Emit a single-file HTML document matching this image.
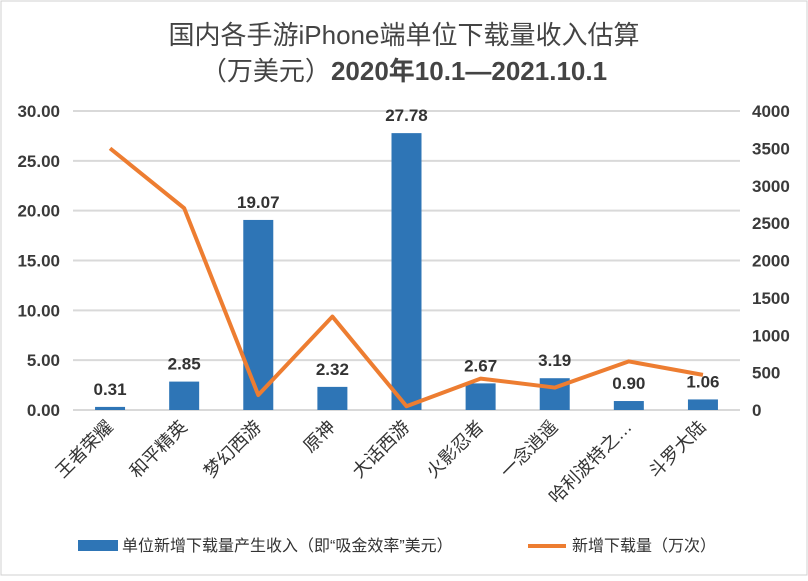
<!DOCTYPE html>
<html><head><meta charset="utf-8"><style>
body{margin:0;background:#fff}
svg{font-family:"Liberation Sans","Noto Sans CJK SC",sans-serif}
</style></head><body>
<svg width="808" height="576">
<rect x="1" y="1" width="806" height="574" fill="#fff" stroke="#d0d0d0"/>
<text x="404" y="44" text-anchor="middle" font-size="26" fill="#444">国内各手游iPhone端单位下载量收入估算</text>
<text x="404" y="80" text-anchor="middle" font-size="26" fill="#444">（万美元）<tspan font-weight="bold">2020年10.1—2021.10.1</tspan></text>
<g id="grid"></g><g id="bars"></g><g id="line"></g><g id="labels"></g>
<g>
<rect x="78" y="540" width="40" height="11" fill="#2e75b6"/>
<text x="122" y="551" font-size="16" fill="#333">单位新增下载量产生收入（即“吸金效率”美元）</text>
<line x1="528" y1="546" x2="566" y2="546" stroke="#ed7d31" stroke-width="4"/>
<text x="572" y="551" font-size="16" fill="#333">新增下载量（万次）</text>
</g>
</svg>
<script>
const categories=["王者荣耀","和平精英","梦幻西游","原神","大话西游","火影忍者","一念逍遥","哈利波特之…","斗罗大陆"];
const revenue=[0.31,2.85,19.07,2.32,27.78,2.67,3.19,0.90,1.06];
const downloads=[3500,2700,200,1250,50,420,300,650,470];
const leftTicks=["0.00","5.00","10.00","15.00","20.00","25.00","30.00"];
const rightTicks=["0","500","1000","1500","2000","2500","3000","3500","4000"];
const NS="http://www.w3.org/2000/svg";
const X0=73,X1=740,Y0=410,Y1=111;
const band=(X1-X0)/categories.length;
const xc=i=>X0+band*(i+0.5);
const yL=v=>Y0-(v/30)*(Y0-Y1);
const yR=v=>Y0-(v/4000)*(Y0-Y1);
function mk(t,a,p){const e=document.createElementNS(NS,t);for(const k in a)e.setAttribute(k,a[k]);p.appendChild(e);return e;}
const g=document.getElementById('grid'),b=document.getElementById('bars'),l=document.getElementById('line'),lb=document.getElementById('labels');
leftTicks.forEach(t=>{const y=yL(parseFloat(t));
const ln=mk('line',{x1:X0,x2:X1,y1:y,y2:y,stroke:'#d9d9d9','stroke-width':2},g);


const tx=mk('text',{x:60,y:y+6,'text-anchor':'end','font-size':17,'font-weight':'bold',fill:'#3a3a3a'},g);tx.textContent=t;

});
rightTicks.forEach(t=>{const y=yR(parseFloat(t));
const tx=mk('text',{x:752,y:y+6,'font-size':17,'font-weight':'bold',fill:'#3a3a3a'},g);tx.textContent=t;

});
categories.forEach((c,i)=>{const x=xc(i),v=revenue[i];
const r=mk('rect',{x:x-15,y:yL(v),width:30,height:Y0-yL(v),fill:'#2e75b6'},b);


const vt=mk('text',{x:x,y:yL(v)-12,'text-anchor':'middle','font-size':17,'font-weight':'bold',fill:'#333'},lb);vt.textContent=v.toFixed(2);


const ct=mk('text',{x:x+4,y:428,'text-anchor':'end','font-size':18,fill:'#333',transform:`rotate(-45 ${x+4} 428)`},lb);ct.textContent=c;

});
const pts=downloads.map((d,i)=>xc(i)+','+yR(d)).join(' ');
const pl=mk('polyline',{points:pts,fill:'none',stroke:'#ed7d31','stroke-width':4,'stroke-linejoin':'round'},l);


</script>
</body></html>
